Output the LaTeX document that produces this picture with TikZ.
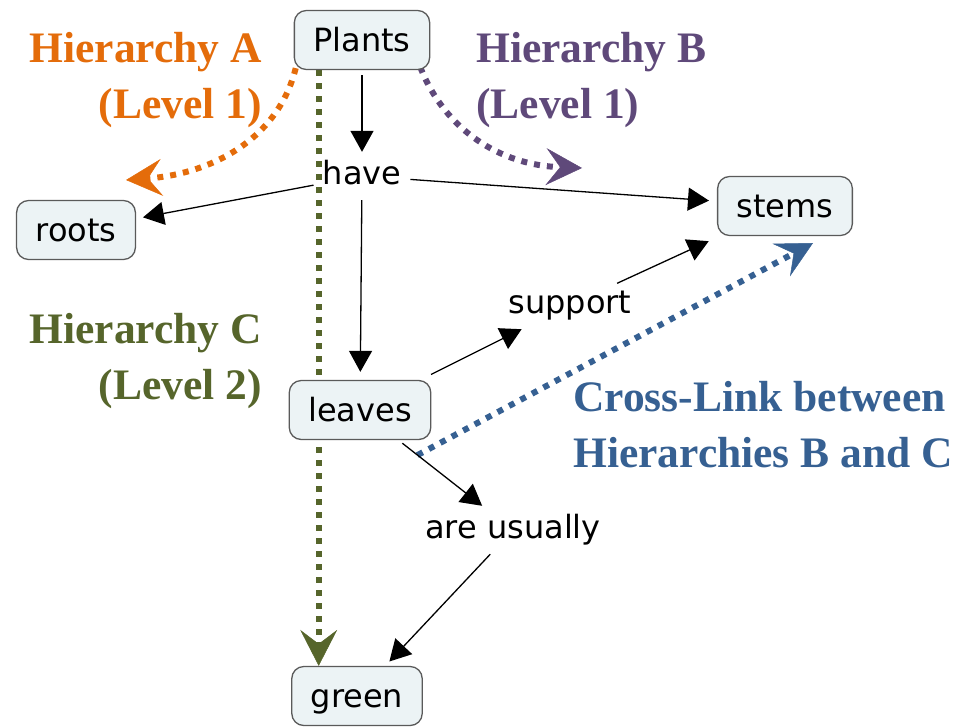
\documentclass[tikz,border=0pt]{standalone}
\usepackage{fontspec}
\setmainfont{Liberation Serif}
\newfontfamily\conceptfont{DejaVu Sans}
\usetikzlibrary{arrows.meta}

\definecolor{boxfill}{HTML}{ECF3F5}
\definecolor{boxline}{HTML}{5A5A5A}
\definecolor{hierA}{HTML}{E46C0A}
\definecolor{hierB}{HTML}{5F497A}
\definecolor{hierC}{HTML}{56652B}
\definecolor{crossC}{HTML}{366092}

\pgfdeclarelayer{behind}
\pgfsetlayers{behind,main}

\tikzset{
  concept/.style={rounded corners=12pt, fill=boxfill, draw=boxline, line width=1.3pt,
    minimum height=59pt, inner xsep=19pt, inner ysep=0pt,
    text height=26pt, text depth=4pt, font=\conceptfont\fontsize{32}{38}\selectfont},
  linkword/.style={inner sep=9pt, text height=23pt, text depth=7pt,
    font=\conceptfont\fontsize{32}{38}\selectfont},
  link/.style={line width=1.3pt, -{Triangle[length=21pt,width=23pt]}},
  hierarrow/.style={line width=6pt, dash pattern=on 6pt off 7pt,
    -{Stealth[length=36pt,width=37pt,inset=14pt,line width=0.5pt]}},
  caption/.style={inner sep=0pt, font=\bfseries\fontsize{43.5}{56}\selectfont}
}

\begin{document}
\begin{tikzpicture}[x=1pt,y=-1pt]
\useasboundingbox (0,0) rectangle (976,726);

% concepts
\node[concept] (plants) at (362,40) {Plants};
\node[concept] (roots) at (76,230) {roots};
\node[concept] (stems) at (785,206) {stems};
\node[concept] (leaves) at (360,410) {leaves};
\node[concept] (green) at (357,696) {green};

% linking phrases
\node[linkword] (have) at (362,176) {have};
\node[linkword] (support) at (570,305) {support};
\node[linkword] (usually) at (513,530) {are usually};

% propositions
\draw[link, shorten <=5pt] (plants) -- (have);
\draw[link, shorten >=7pt] (have) -- (roots);
\draw[link, shorten >=8pt] (have) -- (stems);
\draw[link, shorten >=8pt] (have) -- (leaves);
\draw[link, shorten <=12pt] (leaves) -- (support);
\draw[link, shorten <=-6pt, shorten >=12pt] (support) -- (stems);
\draw[link, shorten <=5pt] (leaves) -- (usually);
\draw[link, shorten >=6pt] (usually) -- (green);

% hierarchy markers, drawn beneath the concept boxes
\coordinate (tipA) at (126,180);
\coordinate (tipB) at (582,168);
\coordinate (tipX) at (813,243);
\begin{pgfonlayer}{behind}
\draw[hierarrow, hierA] ([shift={(2,-2)}]plants.south west)
  .. controls (278,140) and (210,174) .. (tipA);
\draw[hierarrow, hierB] ([shift={(-10,-3)}]plants.south east)
  .. controls (445,130) and (500,165) .. (tipB);
\draw[hierarrow, hierC] ([xshift=25pt]plants.south west)
  -- ([xshift=25pt]plants.south west |- green.north);
\draw[hierarrow, crossC] ([shift={(-14,15)}]leaves.south east) -- (tipX);
\end{pgfonlayer}

% captions
\node[caption, hierA, align=right, anchor=north east] (capA) at (262,32)
  {Hierarchy A\\(Level 1)};
\node[caption, hierB, align=left, anchor=north west] (capB) at (476,32)
  {Hierarchy B\\(Level 1)};
\node[caption, hierC, align=right, anchor=north east] (capC) at (262,313)
  {Hierarchy C\\(Level 2)};
\node[caption, crossC, align=left, anchor=north west] (capX) at (573,381)
  {Cross-Link between\\Hierarchies B and C};
\end{tikzpicture}
\end{document}
